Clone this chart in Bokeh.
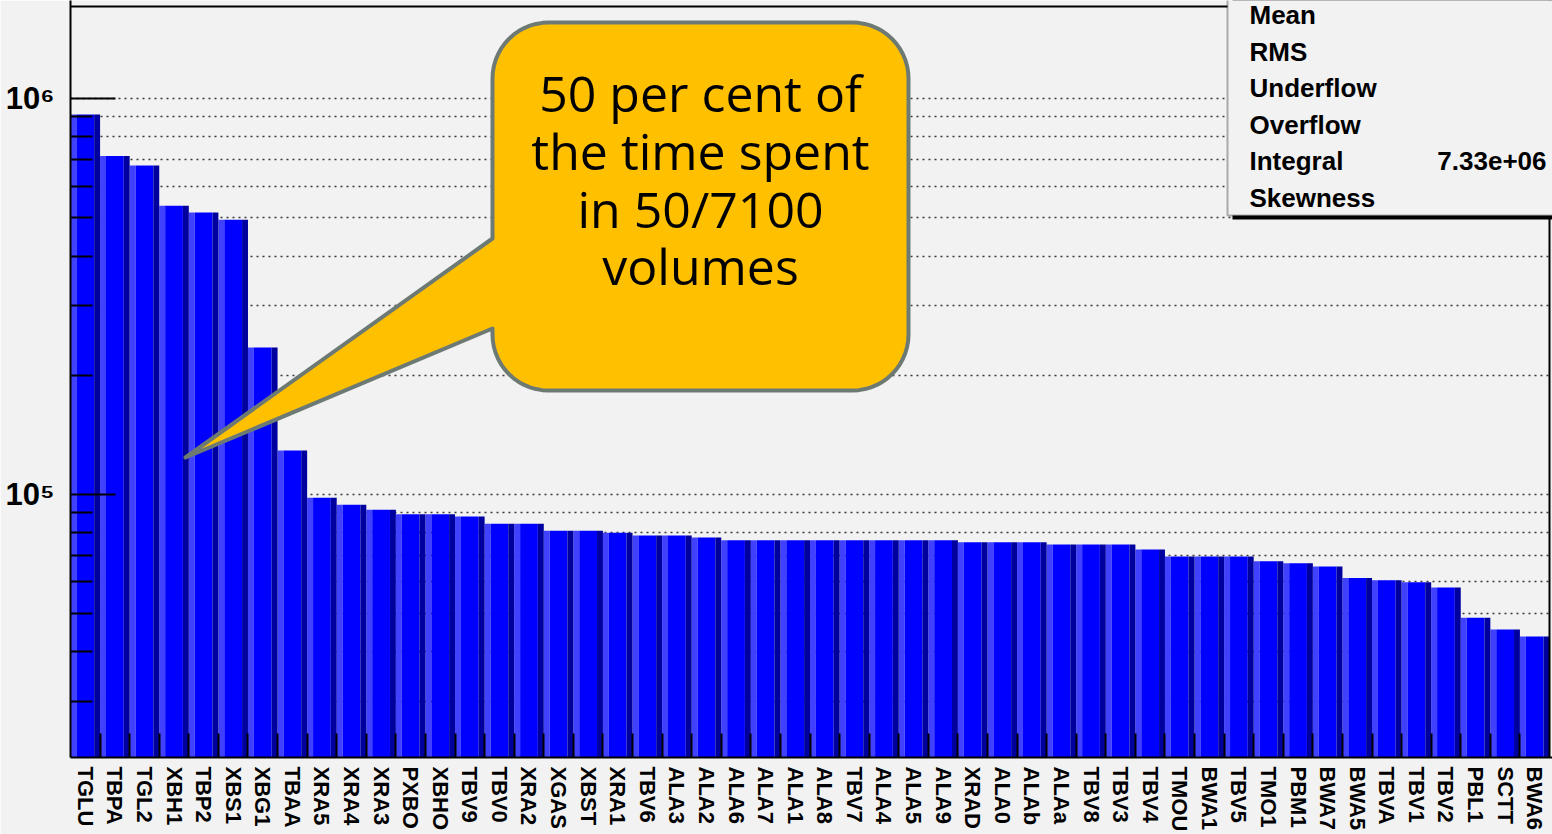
import math

from bokeh.core.properties import value
from bokeh.embed import file_html
from bokeh.models import BoxAnnotation, ColumnDataSource, FixedTicker, Label, Range1d, Span
from bokeh.plotting import figure
from bokeh.resources import INLINE

# --- data -----------------------------------------------------------------
volumes = [
    "TGLU", "TBPA", "TGL2", "XBH1", "TBP2", "XBS1", "XBG1", "TBAA", "XRA5", "XRA4",
    "XRA3", "PXBO", "XBHO", "TBV9", "TBV0", "XRA2", "XGAS", "XBST", "XRA1", "TBV6",
    "ALA3", "ALA2", "ALA6", "ALA7", "ALA1", "ALA8", "TBV7", "ALA4", "ALA5", "ALA9",
    "XRAD", "ALA0", "ALAb", "ALAa", "TBV8", "TBV3", "TBV4", "TMOU", "BWA1", "TBV5",
    "TMO1", "PBM1", "BWA7", "BWA5", "TBVA", "TBV1", "TBV2", "PBL1", "SCTT", "BWA6",
]
time_spent = [
    912000, 716000, 677000, 536000, 515000, 494000, 235000, 129000, 97900, 94000,
    91300, 89000, 89000, 87800, 84200, 84200, 80800, 80800, 79900, 78600,
    78600, 77700, 76500, 76500, 76500, 76500, 76500, 76500, 76500, 76500,
    75600, 75600, 75600, 74600, 74600, 74600, 72500, 69600, 69600, 69600,
    67700, 66900, 65700, 61400, 60600, 59900, 58100, 48700, 45500, 43700,
]
y_major_ticks = [1e5, 1e6]
y_major_labels = ["10\u2075", "10\u2076"]
y_minor_ticks = [3e4, 4e4, 5e4, 6e4, 7e4, 8e4, 9e4,
                 2e5, 3e5, 4e5, 5e5, 6e5, 7e5, 8e5, 9e5]
stats_names = ["Mean", "RMS", "Underflow", "Overflow", "Integral", "Skewness"]
callout_lines = ["50 per cent of", "the time spent", "in 50/7100", "volumes"]

Y_MIN, Y_MAX = 2.16e4, 1.77e6

# --- page / frame geometry -------------------------------------------------
W, H = 1552, 834
FL, FB = 70, 757          # frame left / bottom on the canvas
BOX_T, BOX_R = 6, 1549    # histogram box top / right edge
N = len(volumes)
BG = "#f2f2f2"
LOG_LO, LOG_HI = math.log10(Y_MIN), math.log10(Y_MAX)
X_END = N * (W - FL) / (BOX_R - FL)


def dx(px):
    """canvas x pixel -> data x"""
    return (px - FL) / (W - FL) * X_END


def dy(py):
    """canvas y pixel -> data y (log axis)"""
    return 10 ** (LOG_HI - py / FB * (LOG_HI - LOG_LO))


p = figure(
    width=W, height=H,
    x_range=Range1d(0, X_END), y_range=Range1d(Y_MIN, Y_MAX),
    y_axis_type="log",
    output_backend="svg", toolbar_location=None,
    min_border_left=FL, min_border_right=0,
    min_border_top=0, min_border_bottom=H - FB,
    background_fill_color=BG, border_fill_color=BG,
    outline_line_color=None,
)

# --- bars with the bright / plain / dark 3D shading ----------------------
idx = list(range(N))
src = ColumnDataSource(dict(
    xl=[i + 0.1 for i in idx],
    xm=[i + 0.5 for i in idx],
    xr=[i + 0.9 for i in idx],
    top=time_spent,
    bottom=[1e3] * N,
))
p.vbar(x="xl", width=0.2, top="top", bottom="bottom", source=src,
       fill_color="#4040ff", line_color=None)
p.vbar(x="xm", width=0.6, top="top", bottom="bottom", source=src,
       fill_color="#0000ff", line_color=None)
p.vbar(x="xr", width=0.2, top="top", bottom="bottom", source=src,
       fill_color="#00009e", line_color=None)

# --- x axis: labels at bin centres, tick marks at bin edges --------------
xax = p.xaxis[0]
centres = [i + 0.5 for i in idx]
xax.ticker = FixedTicker(ticks=centres, minor_ticks=list(range(1, N)))
xax.major_label_overrides = {c: name for c, name in zip(centres, volumes)}
xax.major_label_orientation = "vertical"
xax.major_label_text_font = "Liberation Sans"
xax.major_label_text_font_style = "bold"
xax.major_label_text_font_size = "22px"
xax.major_label_text_color = "black"
xax.major_label_standoff = 9
xax.major_tick_in = 0
xax.major_tick_out = 0
xax.minor_tick_in = 24
xax.minor_tick_out = 0
xax.minor_tick_line_color = "black"
xax.minor_tick_line_width = 2
xax.axis_line_color = "black"
xax.axis_line_width = 2

# --- y axis: log decades ---------------------------------------------------
yax = p.yaxis[0]
yticker = FixedTicker(ticks=y_major_ticks, minor_ticks=y_minor_ticks)
yax.ticker = yticker
yax.major_label_overrides = {t: lab for t, lab in zip(y_major_ticks, y_major_labels)}
yax.major_label_text_font = "Liberation Sans"
yax.major_label_text_font_style = "bold"
yax.major_label_text_font_size = "31px"
yax.major_label_text_color = "black"
yax.major_label_standoff = 16
yax.major_tick_in = 45
yax.major_tick_out = 0
yax.minor_tick_in = 22
yax.minor_tick_out = 0
yax.major_tick_line_width = 2
yax.minor_tick_line_width = 2
yax.major_tick_line_color = "black"
yax.minor_tick_line_color = "black"
yax.axis_line_color = "black"
yax.axis_line_width = 2

p.xgrid.grid_line_color = None
p.ygrid.ticker = yticker
p.ygrid.grid_line_color = "#3a3a3a"
p.ygrid.grid_line_dash = "2 4"
p.ygrid.grid_line_width = 1.5
p.ygrid.minor_grid_line_color = "#3a3a3a"
p.ygrid.minor_grid_line_dash = "2 4"
p.ygrid.minor_grid_line_width = 1.5

# top and right edges of the histogram box
p.add_layout(Span(location=dy(BOX_T), dimension="width",
                  line_color="black", line_width=2))
p.add_layout(Span(location=dx(BOX_R), dimension="height",
                  line_color="black", line_width=2))


# --- speech-bubble callout -------------------------------------------------
def bubble(x0, y0, x1, y1, r, tip, notch_top, notch_bot, n=14):
    pts = []

    def arc(cx, cy, a0, a1):
        for k in range(n + 1):
            a = math.radians(a0 + (a1 - a0) * k / n)
            pts.append((cx + r * math.cos(a), cy + r * math.sin(a)))

    arc(x0 + r, y0 + r, 180, 270)
    arc(x1 - r, y0 + r, 270, 360)
    arc(x1 - r, y1 - r, 0, 90)
    arc(x0 + r, y1 - r, 90, 180)
    pts.append((x0, notch_bot))
    pts.append(tip)
    pts.append((x0, notch_top))
    return pts


outline = bubble(492, 22, 908, 390, 56, (185, 457), 238, 328)
p.patch([dx(a) for a, _ in outline], [dy(b) for _, b in outline],
        fill_color="#ffc000", line_color="#6d7a74", line_width=4,
        line_join="round")

CALLOUT_FS = 50
line_baselines = [112, 170, 228, 285]
shift = 0.4 * CALLOUT_FS
p.text(x=[dx(700)] * len(callout_lines), y=[dy(b - shift) for b in line_baselines],
       text=callout_lines, text_align="center", text_baseline="alphabetic",
       text_font=value("Open Sans"), text_font_size=f"{CALLOUT_FS}px",
       text_color="black")

# --- statistics box --------------------------------------------------------
p.add_layout(BoxAnnotation(left=dx(1232), right=dx(1600), top=dy(-30), bottom=dy(219),
                           fill_color="black", fill_alpha=1, line_color=None))
p.add_layout(BoxAnnotation(left=dx(1227), right=dx(1600), top=dy(-30), bottom=dy(215),
                           fill_color=BG, fill_alpha=1, line_color="black",
                           line_width=2))
STATS_FS = 26
ROW0, ROW_STEP = 25, 36.5
for k, name in enumerate(stats_names):
    p.add_layout(Label(x=dx(1249), y=dy(ROW0 + ROW_STEP * k - 0.4 * STATS_FS), text=name,
                       text_font="Liberation Sans", text_font_style="bold",
                       text_font_size=f"{STATS_FS}px", text_color="black",
                       text_baseline="alphabetic"))
p.add_layout(Label(x=dx(1546), y=dy(ROW0 + ROW_STEP * 4 - 0.4 * STATS_FS),
                   text=f"{sum(time_spent):.3g}",
                   text_font="Liberation Sans", text_font_style="bold",
                   text_font_size=f"{STATS_FS}px", text_color="black",
                   text_align="right", text_baseline="alphabetic"))

open("out.html", "w").write(file_html(p, INLINE))
